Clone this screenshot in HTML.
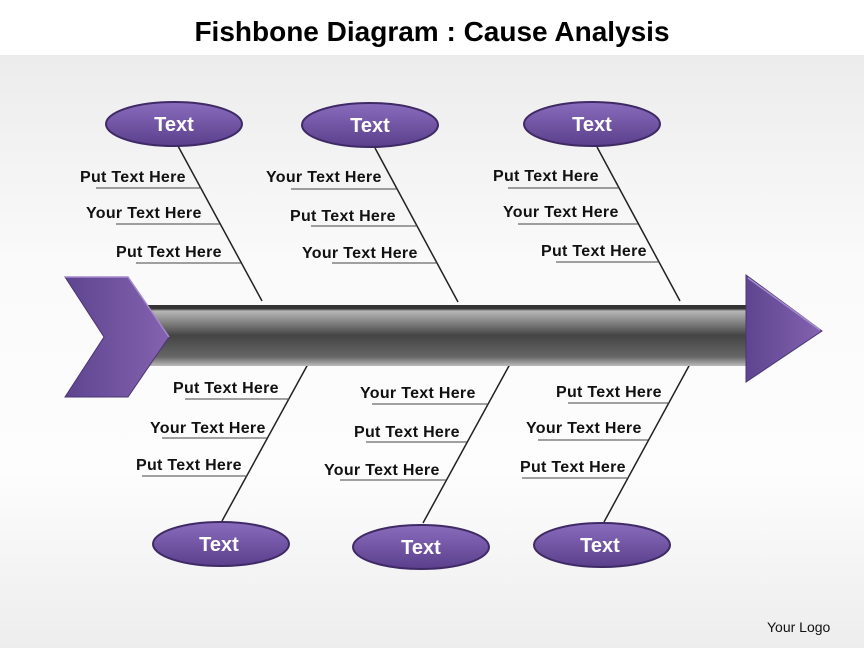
<!DOCTYPE html>
<html><head><meta charset="utf-8"><style>
html,body{margin:0;padding:0;background:#fff}
svg{display:block}
text{font-family:"Liberation Sans",sans-serif}
</style></head><body>
<svg width="864" height="648" viewBox="0 0 864 648" xmlns="http://www.w3.org/2000/svg">
<defs>
<linearGradient id="bg" x1="0" y1="0" x2="0" y2="1">
<stop offset="0" stop-color="#ececec"/><stop offset="0.35" stop-color="#fafafa"/><stop offset="0.7" stop-color="#fdfdfd"/><stop offset="1" stop-color="#ededed"/></linearGradient>
<linearGradient id="bar" x1="0" y1="0" x2="0" y2="1">
<stop offset="0" stop-color="#333"/><stop offset="0.06" stop-color="#333"/><stop offset="0.1" stop-color="#b8b8b8"/><stop offset="0.5" stop-color="#444"/><stop offset="0.85" stop-color="#666"/><stop offset="1" stop-color="#bbb"/></linearGradient>
<linearGradient id="pur" x1="0" y1="0" x2="1" y2="0">
<stop offset="0" stop-color="#5e4590"/><stop offset="1" stop-color="#8462b0"/></linearGradient>
<linearGradient id="ell" x1="0" y1="0" x2="0" y2="1">
<stop offset="0" stop-color="#8a6cbc"/><stop offset="1" stop-color="#5a3f8c"/></linearGradient>
</defs>
<rect x="0" y="55" width="864" height="593" fill="url(#bg)"/>
<rect x="0" y="0" width="864" height="55" fill="#fff"/>
<text x="432" y="41" text-anchor="middle" font-size="28" font-weight="bold" fill="#000">Fishbone Diagram : Cause Analysis</text>

<g stroke="#222" stroke-width="1.5">
<line x1="178" y1="146" x2="262" y2="301"/>
<line x1="375" y1="148" x2="458" y2="302"/>
<line x1="597" y1="147" x2="680" y2="301"/>
<line x1="308" y1="364" x2="222" y2="521"/>
<line x1="510" y1="364" x2="423" y2="523"/>
<line x1="690" y1="364" x2="604" y2="522"/>
</g>
<g stroke="#444" stroke-width="1">
<line x1="96" y1="188" x2="201" y2="188"/><line x1="116" y1="224" x2="220" y2="224"/><line x1="136" y1="263" x2="241" y2="263"/>
<line x1="291" y1="189" x2="397" y2="189"/><line x1="311" y1="226" x2="417" y2="226"/><line x1="332" y1="263" x2="437" y2="263"/>
<line x1="508" y1="188" x2="619" y2="188"/><line x1="518" y1="224" x2="638" y2="224"/><line x1="556" y1="262" x2="659" y2="262"/>
<line x1="185" y1="399" x2="289" y2="399"/><line x1="162" y1="438" x2="267" y2="438"/><line x1="142" y1="476" x2="247" y2="476"/>
<line x1="372" y1="404" x2="488" y2="404"/><line x1="366" y1="442" x2="467" y2="442"/><line x1="340" y1="480" x2="446" y2="480"/>
<line x1="568" y1="403" x2="669" y2="403"/><line x1="538" y1="440" x2="648" y2="440"/><line x1="522" y1="478" x2="627" y2="478"/>
</g>
<g font-size="16" font-weight="bold" fill="#111" letter-spacing="0.3">
<text x="80" y="182">Put Text Here</text><text x="86" y="218">Your Text Here</text><text x="116" y="257">Put Text Here</text>
<text x="266" y="182">Your Text Here</text><text x="290" y="221">Put Text Here</text><text x="302" y="258">Your Text Here</text>
<text x="493" y="181">Put Text Here</text><text x="503" y="217">Your Text Here</text><text x="541" y="256">Put Text Here</text>
<text x="173" y="393">Put Text Here</text><text x="150" y="433">Your Text Here</text><text x="136" y="470">Put Text Here</text>
<text x="360" y="398">Your Text Here</text><text x="354" y="437">Put Text Here</text><text x="324" y="475">Your Text Here</text>
<text x="556" y="397">Put Text Here</text><text x="526" y="433">Your Text Here</text><text x="520" y="472">Put Text Here</text>
</g>

<rect x="140" y="305" width="610" height="61" fill="url(#bar)"/>
<polygon points="65,277 128,277 169,337 128,397 65,397 104,337" fill="url(#pur)" stroke="#4a3575" stroke-width="1"/>
<polyline points="65,277 128,277 169,337" fill="none" stroke="#a68ad0" stroke-width="1.5"/>
<polygon points="746,275 822,331 746,382" fill="url(#pur)" stroke="#4a3575" stroke-width="1"/>
<line x1="748" y1="278" x2="820" y2="330" stroke="#a68ad0" stroke-width="1.5"/>

<g stroke="#3f2a66" stroke-width="2" fill="url(#ell)">
<ellipse cx="174" cy="124" rx="68" ry="22"/>
<ellipse cx="370" cy="125" rx="68" ry="22"/>
<ellipse cx="592" cy="124" rx="68" ry="22"/>
<ellipse cx="221" cy="544" rx="68" ry="22"/>
<ellipse cx="421" cy="547" rx="68" ry="22"/>
<ellipse cx="602" cy="545" rx="68" ry="22"/>
</g>
<g font-size="20" font-weight="bold" fill="#fff" text-anchor="middle">
<text x="174" y="131">Text</text><text x="370" y="132">Text</text><text x="592" y="131">Text</text>
<text x="219" y="551">Text</text><text x="421" y="554">Text</text><text x="600" y="552">Text</text>
</g>
<text x="767" y="632" font-size="14" fill="#111">Your Logo</text>
</svg>
</body></html>
